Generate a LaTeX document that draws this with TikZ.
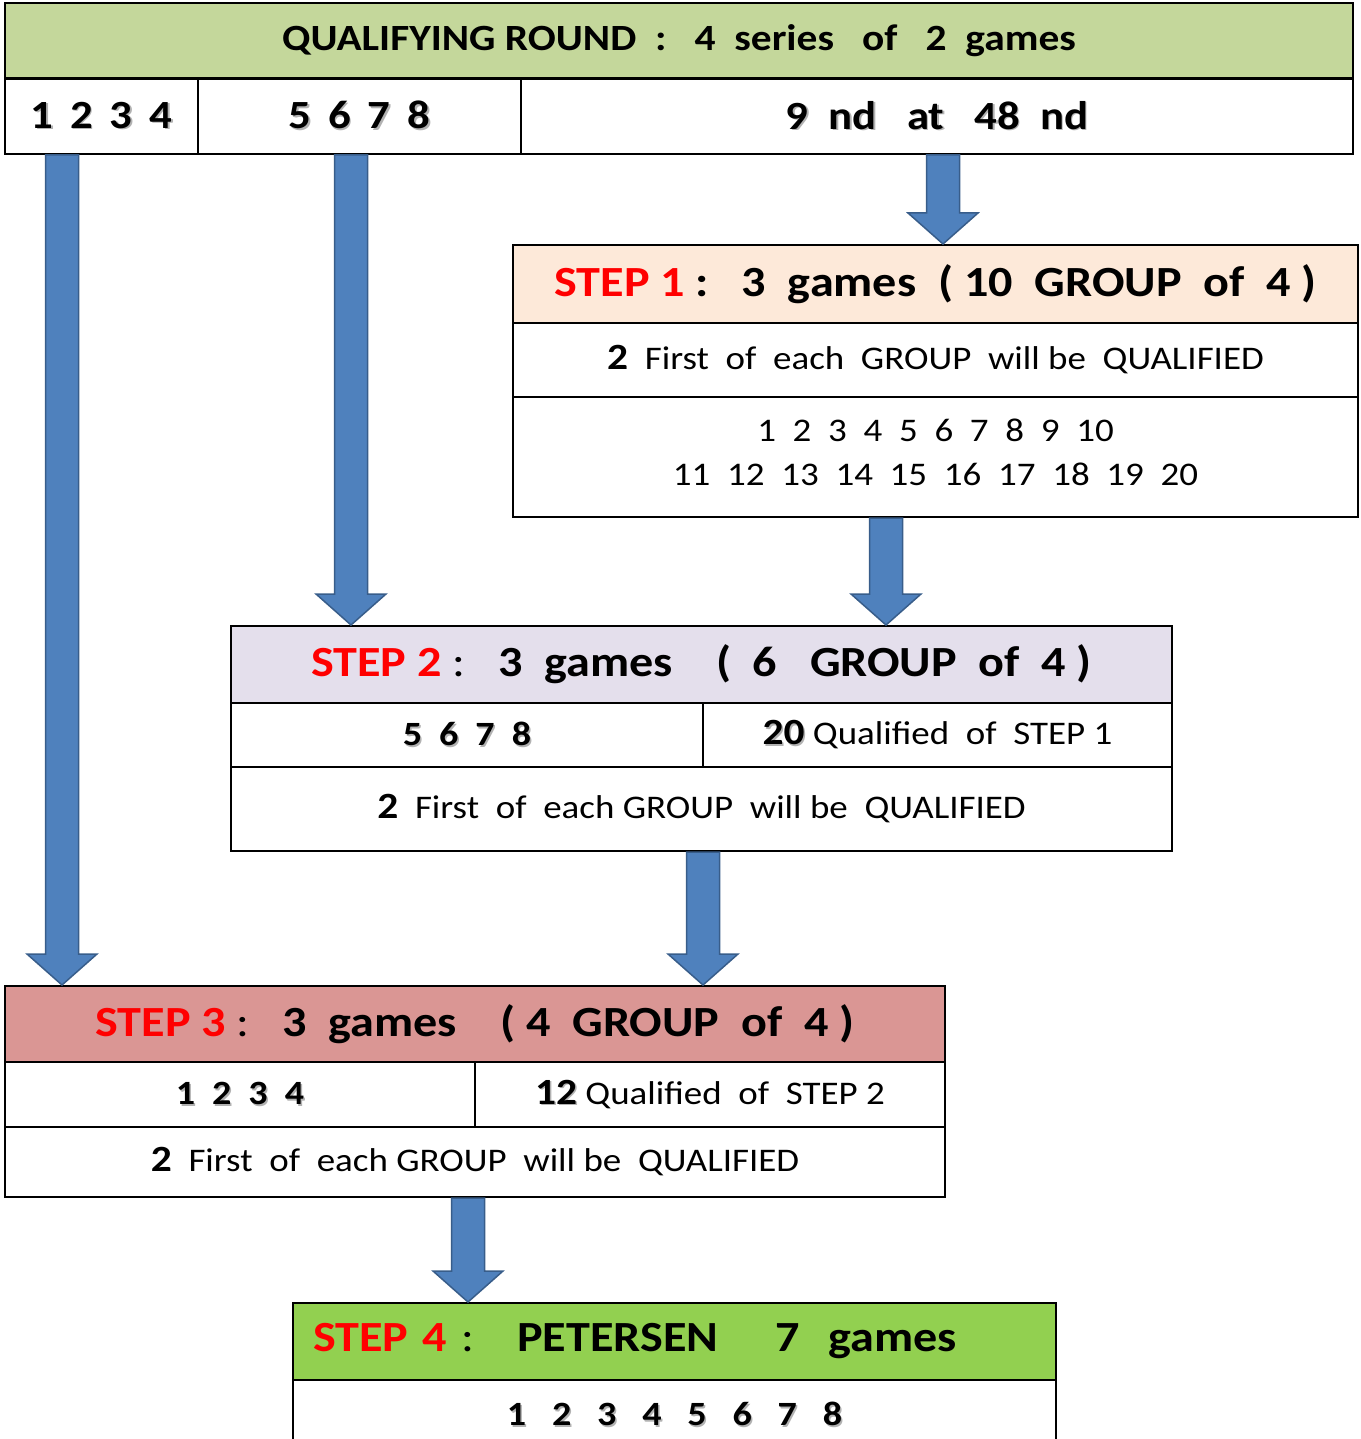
\documentclass[tikz,border=0pt]{standalone}
\usepackage{fontspec}
\setmainfont{Carlito}[FakeStretch=1.12]
\usetikzlibrary{calc}

\definecolor{qualgreen}{HTML}{C4D79B}
\definecolor{stepone}{HTML}{FDE9D9}
\definecolor{steptwo}{HTML}{E4DFEC}
\definecolor{stepthree}{HTML}{DA9694}
\definecolor{stepfour}{HTML}{92D050}
\definecolor{arrowblue}{HTML}{4F81BD}
\definecolor{arrowline}{HTML}{385D8A}
\definecolor{stepred}{HTML}{FF0000}

\newcommand{\shd}[1]{\makebox[0pt][l]{\kern1.5pt\raisebox{-1.5pt}{\color{black!30}#1}}#1}
\newcommand{\bignum}[1]{{\fontsize{37}{40}\selectfont\bfseries #1}}
\newcommand{\stp}[1]{\textcolor{stepred}{STEP #1}}
\newcommand{\gp}{\hspace{17pt}}

\tikzset{
  cell/.style={draw, line width=2pt, inner sep=0pt},
  titlefont/.style={font=\fontsize{43}{50}\selectfont\bfseries},
  headfont/.style={font=\fontsize{37}{42}\selectfont\bfseries},
  numfont/.style={font=\fontsize{40}{46}\selectfont\bfseries},
  rowbold/.style={font=\fontsize{34}{40}\selectfont\bfseries},
  rowtext/.style={font=\fontsize{33}{44}\selectfont},
  blockarrow/.style={draw=arrowline, fill=arrowblue, line width=1.5pt,
    to path={let \p1=(\tikztostart), \p2=(\tikztotarget) in
      (\x1-16.5pt,\y1) -- (\x1-16.5pt,\y2+31pt) -- (\x1-35pt,\y2+31pt) -- (\x1,\y2)
      -- (\x1+35pt,\y2+31pt) -- (\x1+16.5pt,\y2+31pt) -- (\x1+16.5pt,\y1) -- cycle}},
}

\begin{document}
\begin{tikzpicture}[x=1pt,y=-1pt]
  \useasboundingbox (0,0) rectangle (1360,1439);

  % qualifying round
  \node[cell, headfont, fill=qualgreen, minimum width=1348pt, minimum height=76pt] (q0) at (679,41)
    {QUALIFYING ROUND~~:~~~4~~series~~~of~~~2~~games};
  \begin{scope}[every node/.style={cell, numfont, minimum height=76pt}]
    \node[minimum width=193pt] (q1) at (101.5,116) {\shd{1\gp2\gp3\gp4}};
    \node[minimum width=323pt] (q2) at (359.5,116) {\shd{5\gp6\gp7\gp8}};
    \node[minimum width=832pt] (q3) at (937,116) {\shd{9~~nd~~~at~~~48~~nd}};
  \end{scope}

  % step 1
  \node[cell, titlefont, fill=stepone, minimum width=845pt, minimum height=78pt] (s1t) at (935.5,284)
    {\stp{1}~:~~~3~~games~~(~10~~GROUP~~of~~4~)};
  \node[cell, rowtext, minimum width=845pt, minimum height=74pt] (s1q) at (935.5,360)
    {\bignum{2}~~First~~of~~each~~GROUP~~will~be~~QUALIFIED};
  \node[cell, rowtext, align=center, minimum width=845pt, minimum height=120pt] (s1n) at (935.5,457)
    {1~~2~~3~~4~~5~~6~~7~~8~~9~~10\\ 11~~12~~13~~14~~15~~16~~17~~18~~19~~20\\[-34pt]\mbox{}};

  % step 2
  \node[cell, titlefont, fill=steptwo, minimum width=941pt, minimum height=77pt] (s2t) at (701.5,664.5)
    {\stp{2}~{\mdseries:}~~~3~~games~~~~(~~6~~~GROUP~~of~~4~)};
  \node[cell, rowbold, minimum width=472pt, minimum height=64pt] (s2a) at (467,735) {\shd{5\gp6\gp7\gp8}};
  \node[cell, rowtext, minimum width=469pt, minimum height=64pt] (s2b) at (937.5,735)
    {\bignum{\shd{20}}~Qualified~~of~~STEP~1};
  \node[cell, rowtext, minimum width=941pt, minimum height=84pt] (s2q) at (701.5,809)
    {\bignum{2}~~First~~of~~each~GROUP~~will~be~~QUALIFIED\\[8pt]};

  % step 3
  \node[cell, titlefont, fill=stepthree, minimum width=940pt, minimum height=76pt] (s3t) at (475,1024)
    {\stp{3}~{\mdseries:}~~~3~~games~~~~(~4~~GROUP~~of~~4~)};
  \node[cell, rowbold, minimum width=470pt, minimum height=65pt] (s3a) at (240,1094.5) {\shd{1\gp2\gp3\gp4}};
  \node[cell, rowtext, minimum width=470pt, minimum height=65pt] (s3b) at (710,1094.5)
    {\bignum{\shd{12}}~Qualified~~of~~STEP~2};
  \node[cell, rowtext, minimum width=940pt, minimum height=70pt] (s3q) at (475,1162)
    {\bignum{2}~~First~~of~~each~GROUP~~will~be~~QUALIFIED};

  % step 4
  \node[cell, titlefont, fill=stepfour, text width=723pt, inner xsep=20pt, align=left,
    minimum height=77pt] (s4t) at (674.5,1341.5)
    {\stp{4}~{\mdseries:}~~~PETERSEN~~~~7~~games};
  \node[cell, rowbold, minimum width=763pt, minimum height=70pt] (s4n) at (674.5,1415)
    {\shd{1~~~2~~~3~~~4~~~5~~~6~~~7~~~8}\\[14pt]};

  % arrows
  \coordinate (a1) at (62,0);
  \coordinate (a2) at (351,0);
  \coordinate (a3) at (943,0);
  \coordinate (a4) at (886,0);
  \coordinate (a5) at (703,0);
  \coordinate (a6) at (468,0);
  \begin{scope}[every edge/.style={blockarrow}]
    \path (a1 |- q1.south) edge (a1 |- s3t.north);
    \path (a2 |- q2.south) edge (a2 |- s2t.north);
    \path (a3 |- q3.south) edge (a3 |- s1t.north);
    \path (a4 |- s1n.south) edge (a4 |- s2t.north);
    \path (a5 |- s2q.south) edge (a5 |- s3t.north);
    \path (a6 |- s3q.south) edge (a6 |- s4t.north);
  \end{scope}

\end{tikzpicture}
\end{document}
